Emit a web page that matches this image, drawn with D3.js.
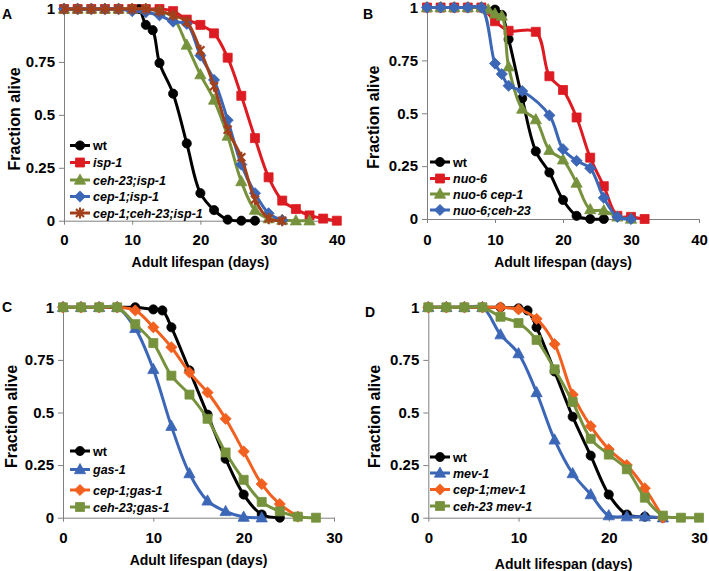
<!DOCTYPE html>
<html><head><meta charset="utf-8">
<script src="https://cdn.jsdelivr.net/npm/d3@7"></script>
<style>
body{margin:0;background:#fff}
svg{display:block}
text{font-family:"Liberation Sans",Arial,Helvetica,sans-serif;font-weight:bold;fill:#000}
</style>
</head><body>
<svg id="chart" width="709" height="571"></svg>
<script>
// ---------- DATA ----------
const yTicks = [0, 0.25, 0.5, 0.75, 1];
const yTickLabels = ["0", "0.25", "0.5", "0.75", "1"];
const xTicksAB = [0, 10, 20, 30, 40];
const xTicksCD = [0, 10, 20, 30];
const xTitle = "Adult lifespan (days)";
const yTitle = "Fraction alive";
const panelLetters = ["A", "B", "C", "D"];

// Panel A
const A_names = ["wt", "isp-1", "ceh-23;isp-1", "cep-1;isp-1", "cep-1;ceh-23;isp-1"];
const A_wt_days = [0,2,4,6,8,10,11,12,13,14,16,18,20,22,24,26,28];
const A_wt_frac = [1,1,1,1,1,1,1,0.925,0.90,0.745,0.60,0.365,0.13,0.05,0.005,0,0];
const A_isp1_days = [0,2,4,6,8,10,12,14,16,18,20,22,24,26,28,30,32,34,36,38,40];
const A_isp1_frac = [1,1,1,1,1,1,1,1,0.99,0.95,0.925,0.885,0.77,0.59,0.39,0.205,0.095,0.055,0.025,0.01,0];
const A_ceh23_days = [0,2,4,6,8,10,12,14,16,18,20,22,24,26,28,30,32,34,36];
const A_ceh23_frac = [1,1,1,1,1,1,1,0.99,0.96,0.83,0.69,0.57,0.40,0.185,0.05,0.01,0.003,0,0];
const A_cep1_days = [0,2,4,6,8,10,12,14,16,18,20,22,24,26,28,30,32];
const A_cep1_frac = [1,1,1,1,1,0.99,0.985,0.97,0.94,0.93,0.78,0.665,0.475,0.265,0.13,0.035,0.003];
const A_cep1ceh23_days = [0,2,4,6,8,10,12,14,16,18,20,22,24,26,28,30,32];
const A_cep1ceh23_frac = [1,1,1,1,1,1,1,0.99,0.97,0.94,0.805,0.635,0.43,0.30,0.10,0.01,0];

// Panel B
const B_names = ["wt", "nuo-6", "nuo-6 cep-1", "nuo-6;ceh-23"];
const B_wt_days = [0,2,4,6,8,10,11,12,14,16,18,20,22,24,26];
const B_wt_frac = [1,1,1,1,1,0.99,0.965,0.85,0.57,0.32,0.22,0.09,0.015,0,0];
const B_nuo6_days = [0,2,4,6,8,10,12,16,18,20,22,24,26,28,30,32];
const B_nuo6_frac = [1,1,1,1,1,0.935,0.89,0.885,0.675,0.61,0.48,0.29,0.155,0.015,0.01,0];
const B_cep1_days = [0,2,4,6,8,9,10,11,12,14,16,18,20,22,24,26,28,30];
const B_cep1_frac = [1,1,1,1,1,0.99,0.97,0.96,0.72,0.52,0.47,0.325,0.28,0.17,0.045,0.04,0.01,0];
const B_ceh23_days = [0,2,4,6,8,10,11,12,14,18,20,22,24,26,28,30];
const B_ceh23_frac = [1,1,1,1,1,0.735,0.685,0.63,0.605,0.49,0.33,0.275,0.24,0.10,0.01,0];

// Panel C
const C_names = ["wt", "gas-1", "cep-1;gas-1", "ceh-23;gas-1"];
const C_wt_days = [0,2,4,6,8,10,11,12,14,16,18,20,22,24];
const C_wt_frac = [1,1,1,1,1,0.99,0.985,0.905,0.70,0.49,0.28,0.11,0.015,0];
const C_gas1_days = [0,2,4,6,8,10,12,14,16,18,20,22];
const C_gas1_frac = [1,1,1,1,0.90,0.705,0.435,0.21,0.08,0.03,0.003,0];
const C_cep1_days = [0,2,4,6,8,10,12,14,16,18,20,22,24,26];
const C_cep1_frac = [1,1,1,1,0.985,0.905,0.81,0.69,0.595,0.47,0.315,0.16,0.065,0.005];
const C_ceh23_days = [0,2,4,6,8,10,12,14,16,18,20,22,24,26,28];
const C_ceh23_frac = [1,1,1,1,0.92,0.83,0.675,0.585,0.47,0.31,0.18,0.075,0.03,0.005,0];

// Panel D
const D_names = ["wt", "mev-1", "cep-1;mev-1", "ceh-23 mev-1"];
const D_wt_days = [0,2,4,6,8,10,11,12,14,16,18,20,22,24,26];
const D_wt_frac = [1,1,1,1,1,0.995,0.985,0.905,0.695,0.48,0.295,0.11,0.015,0.005,0];
const D_mev1_days = [0,2,4,6,8,10,12,14,16,18,20,22,24,26];
const D_mev1_frac = [1,1,1,1,0.87,0.78,0.595,0.37,0.21,0.11,0.01,0.005,0.005,0];
const D_cep1_days = [0,2,4,6,8,10,12,14,16,18,20,22,24,26];
const D_cep1_frac = [1,1,1,1,1,0.99,0.945,0.825,0.585,0.435,0.325,0.25,0.14,0];
const D_ceh23_days = [0,2,4,6,8,10,12,14,16,18,20,22,24,26,28,30];
const D_ceh23_frac = [1,1,1,1,0.955,0.925,0.845,0.705,0.55,0.375,0.30,0.23,0.095,0.01,0,0];

// ---------- STYLE ----------
const C_BLACK = "#000000", C_RED = "#dc1c22", C_GREEN = "#76923c", C_BLUE = "#3c66b6",
      C_BROWN = "#a2401c", C_ORANGE = "#f2601f";

const zip = (d, f) => d.map((x, i) => [x, f[i]]);

const panels = [
  { letter: panelLetters[0], lx: 2, ly: 19, x0: 64, x1: 336.8, xmax: 40, xticks: xTicksAB,
    yTop: 9, yBot: 220.7, tickLabelY: 245, titleY: 267, yTitleX: 20,
    legX: 70, legY: [145.5, 162.5, 180, 196.5, 213],
    series: [
      { name: A_names[0], data: zip(A_wt_days, A_wt_frac), color: C_BLACK, m: "circle" },
      { name: A_names[1], data: zip(A_isp1_days, A_isp1_frac), color: C_RED, m: "square" },
      { name: A_names[2], data: zip(A_ceh23_days, A_ceh23_frac), color: C_GREEN, m: "triangle" },
      { name: A_names[3], data: zip(A_cep1_days, A_cep1_frac), color: C_BLUE, m: "diamond" },
      { name: A_names[4], data: zip(A_cep1ceh23_days, A_cep1ceh23_frac), color: C_BROWN, m: "star" }
    ]},
  { letter: panelLetters[1], lx: 363, ly: 19, x0: 427, x1: 699, xmax: 40, xticks: xTicksAB,
    yTop: 7.5, yBot: 219, tickLabelY: 245, titleY: 267, yTitleX: 379,
    legX: 430, legY: [162, 178.5, 194, 210],
    series: [
      { name: B_names[0], data: zip(B_wt_days, B_wt_frac), color: C_BLACK, m: "circle" },
      { name: B_names[1], data: zip(B_nuo6_days, B_nuo6_frac), color: C_RED, m: "square" },
      { name: B_names[2], data: zip(B_cep1_days, B_cep1_frac), color: C_GREEN, m: "triangle" },
      { name: B_names[3], data: zip(B_ceh23_days, B_ceh23_frac), color: C_BLUE, m: "diamond" }
    ]},
  { letter: panelLetters[2], lx: 2, ly: 312, x0: 63, x1: 334, xmax: 30, xticks: xTicksCD,
    yTop: 307.3, yBot: 517.7, tickLabelY: 543, titleY: 565, yTitleX: 17,
    legX: 70, legY: [451, 469.5, 490, 507],
    series: [
      { name: C_names[0], data: zip(C_wt_days, C_wt_frac), color: C_BLACK, m: "circle" },
      { name: C_names[1], data: zip(C_gas1_days, C_gas1_frac), color: C_BLUE, m: "triangle" },
      { name: C_names[2], data: zip(C_cep1_days, C_cep1_frac), color: C_ORANGE, m: "diamond" },
      { name: C_names[3], data: zip(C_ceh23_days, C_ceh23_frac), color: C_GREEN, m: "square" }
    ]},
  { letter: panelLetters[3], lx: 365, ly: 317, x0: 428.3, x1: 699, xmax: 30, xticks: xTicksCD,
    yTop: 307.3, yBot: 517.7, tickLabelY: 543, titleY: 569, yTitleX: 380,
    legX: 430, legY: [457, 473, 489.5, 506],
    series: [
      { name: D_names[0], data: zip(D_wt_days, D_wt_frac), color: C_BLACK, m: "circle" },
      { name: D_names[1], data: zip(D_mev1_days, D_mev1_frac), color: C_BLUE, m: "triangle" },
      { name: D_names[2], data: zip(D_cep1_days, D_cep1_frac), color: C_ORANGE, m: "diamond" },
      { name: D_names[3], data: zip(D_ceh23_days, D_ceh23_frac), color: C_GREEN, m: "square" }
    ]}
];

function markerPath(m) {
  switch (m) {
    case "circle": return d3.symbol(d3.symbolCircle, 66)();
    case "square": return d3.symbol(d3.symbolSquare, 81)();
    case "triangle": return "M0,-6L5.6,4.2L-5.6,4.2Z";
    case "diamond": return "M0,-5.6L5.6,0L0,5.6L-5.6,0Z";
    case "star": return "M-4,-4L4,4M-4,4L4,-4M0,-5.5L0,5.5";
  }
}
function drawMarker(g, m, color, x, y) {
  const p = g.append("path").attr("d", markerPath(m)).attr("transform", `translate(${x},${y})`);
  if (m === "star") p.attr("fill", "none").attr("stroke", color).attr("stroke-width", 2.2);
  else p.attr("fill", color).attr("stroke", color).attr("stroke-width", 0.8);
}

const svg = d3.select("#chart");

panels.forEach(P => {
  const g = svg.append("g");
  const x = d3.scaleLinear().domain([0, P.xmax]).range([P.x0, P.x1]);
  const y = d3.scaleLinear().domain([0, 1]).range([P.yBot, P.yTop]);

  // y axis
  const ya = g.append("g").attr("transform", `translate(${P.x0},0)`)
    .call(d3.axisLeft(y).tickValues(yTicks).tickFormat((d, i) => yTickLabels[i]).tickSize(5).tickSizeOuter(0).tickPadding(4));
  ya.select(".domain").attr("stroke", "#808080");
  ya.selectAll(".tick line").attr("stroke", "#808080");
  ya.selectAll(".tick text").style("font-size", "15px").attr("fill", "#000");

  // x axis
  const xa = g.append("g").attr("transform", `translate(0,${P.yBot})`)
    .call(d3.axisBottom(x).tickValues(P.xticks).tickFormat(d3.format("d")).tickSize(4).tickSizeOuter(0).tickPadding(12));
  xa.select(".domain").attr("stroke", "#808080");
  xa.selectAll(".tick line").attr("stroke", "#808080");
  xa.selectAll(".tick text").style("font-size", "15px").attr("fill", "#000").attr("dy", null).attr("y", P.tickLabelY - P.yBot);

  // titles
  g.append("text").attr("x", (P.x0 + P.x1) / 2).attr("y", P.titleY).attr("text-anchor", "middle")
    .style("font-size", "14px").text(xTitle);
  g.append("text").attr("transform", `translate(${P.yTitleX},${(P.yTop + P.yBot) / 2 + 4}) rotate(-90)`)
    .attr("text-anchor", "middle").style("font-size", "16px").text(yTitle);
  g.append("text").attr("x", P.lx).attr("y", P.ly).style("font-size", "14px").text(P.letter);

  // series
  const line = d3.line().x(d => x(d[0])).y(d => y(d[1])).curve(d3.curveCatmullRom.alpha(0.5));
  P.series.forEach(s => {
    const sg = g.append("g");
    sg.append("path").attr("d", line(s.data)).attr("fill", "none").attr("stroke", s.color)
      .attr("stroke-width", 3).attr("stroke-linejoin", "round");
    s.data.forEach(d => drawMarker(sg, s.m, s.color, x(d[0]), y(d[1])));
  });

  // legend
  P.series.forEach((s, i) => {
    const ly = P.legY[i];
    const lg = g.append("g");
    lg.append("line").attr("x1", P.legX).attr("x2", P.legX + 20).attr("y1", ly).attr("y2", ly)
      .attr("stroke", s.color).attr("stroke-width", 3);
    drawMarker(lg, s.m, s.color, P.legX + 10, ly);
    lg.append("text").attr("x", P.legX + 23).attr("y", ly + 4.5).style("font-size", "12.5px")
      .style("font-style", s.name === "wt" ? "normal" : "italic").text(s.name);
  });
});
</script>
</body></html>
